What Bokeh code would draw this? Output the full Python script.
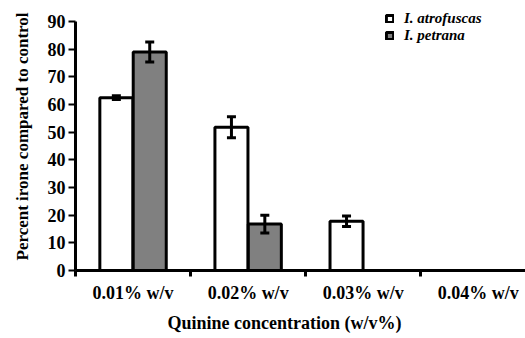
from bokeh.plotting import figure
from bokeh.models import (ColumnDataSource, FixedTicker, Whisker, TeeHead, Legend,
                          LegendItem, Title, Range1d)
from bokeh.embed import file_html
from bokeh.resources import INLINE
import numpy as np

categories = ["0.01% w/v", "0.02% w/v", "0.03% w/v", "0.04% w/v"]
atrofuscas = [62.5, 51.8, 17.8, 0.0]
atrofuscas_err = [0.7, 3.8, 1.9, 0.0]
petrana = [79.0, 16.8, 0.0, 0.0]
petrana_err = [3.6, 3.2, 0.0, 0.0]
y_ticks = [0, 10, 20, 30, 40, 50, 60, 70, 80, 90]

FONT = "Liberation Serif"
idx = np.arange(len(categories))
centers = idx + 0.5
off = 0.145
bw = 0.287

p = figure(width=525, height=338, output_backend="svg", toolbar_location=None,
           x_range=Range1d(0, 3.91), y_range=Range1d(0, 96.9),
           min_border_left=75, min_border_right=0, min_border_top=2, min_border_bottom=68)
p.outline_line_color = None
p.grid.visible = False
p.background_fill_color = "white"
p.border_fill_color = "white"

src_a = ColumnDataSource(dict(x=centers - off, top=atrofuscas, err=atrofuscas_err))
src_p = ColumnDataSource(dict(x=centers + off, top=petrana, err=petrana_err))

ra = p.vbar(x="x", top="top", width=bw, source=src_a, fill_color="white",
            line_color="black", line_width=3)
rp = p.vbar(x="x", top="top", width=bw, source=src_p, fill_color="#808080",
            line_color="black", line_width=3)

for xs, vals, errs in [(centers - off, atrofuscas, atrofuscas_err), (centers + off, petrana, petrana_err)]:
    keep = [i for i in range(len(vals)) if vals[i] > 0]
    s = ColumnDataSource(dict(x=[xs[i] for i in keep],
                              lo=[vals[i] - errs[i] for i in keep],
                              hi=[vals[i] + errs[i] for i in keep]))
    w = Whisker(base="x", lower="lo", upper="hi", source=s, dimension="height",
                line_width=3, line_color="black", level="overlay",
                upper_head=TeeHead(size=9, line_width=3, line_color="black"),
                lower_head=TeeHead(size=9, line_width=3, line_color="black"))
    p.add_layout(w)

# axes
xa = p.xaxis[0]
xa.ticker = FixedTicker(ticks=list(centers), minor_ticks=list(idx.astype(float)))
xa.major_label_overrides = {float(c): lab for c, lab in zip(centers, categories)}
xa.major_tick_line_color = None
xa.minor_tick_out = 6
xa.minor_tick_in = 0
xa.minor_tick_line_width = 3
xa.axis_line_width = 3
xa.major_label_text_font = FONT
xa.major_label_text_font_style = "bold"
xa.major_label_text_font_size = "18px"
xa.major_label_text_color = "black"
xa.major_label_standoff = 6

ya = p.yaxis[0]
ya.ticker = FixedTicker(ticks=y_ticks)
ya.bounds = (0, 90)
ya.minor_tick_line_color = None
ya.major_tick_out = 7
ya.major_tick_in = 0
ya.major_tick_line_width = 2
ya.axis_line_width = 3
ya.major_label_text_font = FONT
ya.major_label_text_font_style = "bold"
ya.major_label_text_font_size = "18px"
ya.major_label_text_color = "black"
ya.major_label_standoff = 3
ya.axis_label = "Percent irone compared to control"
ya.axis_label_text_font = FONT
ya.axis_label_text_font_style = "bold"
ya.axis_label_text_font_size = "17px"
ya.axis_label_text_color = "black"
ya.axis_label_standoff = 13

xt = Title(text="Quinine concentration (w/v%)", align="left", offset=92,
           text_font=FONT, text_font_style="bold", text_font_size="18px",
           text_color="black", standoff=10)
p.add_layout(xt, "below")

legend = Legend(items=[LegendItem(label="I. atrofuscas", renderers=[ra]),
                       LegendItem(label="I. petrana", renderers=[rp])],
                location=(310, 226), padding=0, margin=0, spacing=0,
                border_line_color=None, background_fill_alpha=0,
                glyph_width=9, glyph_height=9, label_height=17, label_standoff=10,
                label_text_font=FONT, label_text_font_style="bold italic",
                label_text_font_size="15px", label_text_color="black")
p.add_layout(legend)

open("out.html", "w").write(file_html(p, INLINE))
